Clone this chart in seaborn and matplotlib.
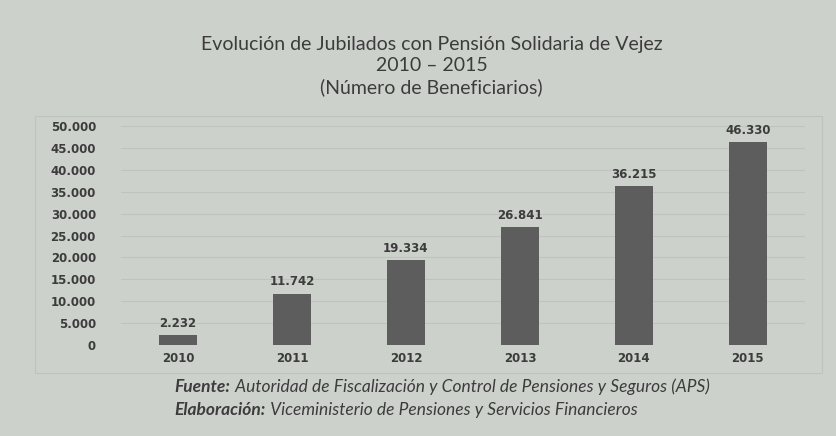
import matplotlib
matplotlib.use("Agg")
import matplotlib.pyplot as plt
import seaborn as sns
import pandas as pd
from matplotlib.patches import Rectangle
from matplotlib.text import Annotation

years = ["2010", "2011", "2012", "2013", "2014", "2015"]
beneficiarios = [2232, 11742, 19334, 26841, 36215, 46330]
yticks = [0, 5000, 10000, 15000, 20000, 25000, 30000, 35000, 40000, 45000, 50000]


def miles(v):
    return f"{v:,.0f}".replace(",", ".")


bg = "#cdd1cc"
txt = "#3c3c3c"

sns.set_theme(style="white")
plt.rcParams['font.family'] = ['DejaVu Sans']

df = pd.DataFrame({'anio': years, 'valor': beneficiarios})

fig = plt.figure(figsize=(8.36, 4.36), dpi=100, facecolor=bg)
ax = fig.add_axes([0.1447, 0.2087, 0.818, 0.5023])
ax.set_facecolor(bg)

sns.barplot(data=df, x='anio', y='valor', color="#5c5d5c", width=0.33,
            saturation=1, linewidth=0, ax=ax)

ax.set_ylim(0, 50000)
ax.set_xlim(-0.5, 5.5)
ax.set_yticks(yticks)
ax.set_yticklabels([miles(v) for v in yticks])
ax.yaxis.grid(True, color="#bfc3be", lw=0.8)
ax.set_axisbelow(True)
for s in ax.spines.values():
    s.set_visible(False)
ax.tick_params(axis='y', length=0, pad=18, labelsize=8.5, labelcolor=txt)
ax.tick_params(axis='x', length=0, pad=5, labelsize=8.5, labelcolor=txt)
for lab in ax.get_yticklabels() + ax.get_xticklabels():
    lab.set_fontweight('bold')
ax.set_xlabel('')
ax.set_ylabel('')

ax.bar_label(ax.containers[0], labels=[miles(v) for v in beneficiarios],
             padding=4, fontsize=8.5, fontweight='bold', color=txt)

# marco del area del grafico
fig.patches.append(Rectangle((0.042, 0.145), 0.941, 0.59, transform=fig.transFigure,
                             fill=False, edgecolor="#bfc3be", lw=0.8))

tfont = ['Lato', 'DejaVu Sans']
fig.text(0.516, 0.897, "Evolución de Jubilados con Pensión Solidaria de Vejez",
         ha='center', va='center', fontsize=14, color=txt, family=tfont)
fig.text(0.516, 0.849, "2010 – 2015", ha='center', va='center',
         fontsize=14, color=txt, family=tfont)
fig.text(0.516, 0.800, "(Número de Beneficiarios)", ha='center', va='center',
         fontsize=14, color=txt, family=tfont)

# notas al pie: parte en negrita seguida del texto normal
for y, head, body in [(0.100, "Fuente:", "Autoridad de Fiscalización y Control de Pensiones y Seguros (APS)"),
                      (0.048, "Elaboración:", "Viceministerio de Pensiones y Servicios Financieros")]:
    t = fig.text(0.209, y, head, ha='left', va='baseline', fontsize=12.5,
                 color=txt, style='italic', fontweight='bold', family=tfont)
    fig.add_artist(Annotation(" " + body, xy=(1, 0), xycoords=t,
                              va='bottom', ha='left', fontsize=12.5,
                              color=txt, style='italic', family=tfont))

fig.savefig("out.png", dpi=100, facecolor=bg)
